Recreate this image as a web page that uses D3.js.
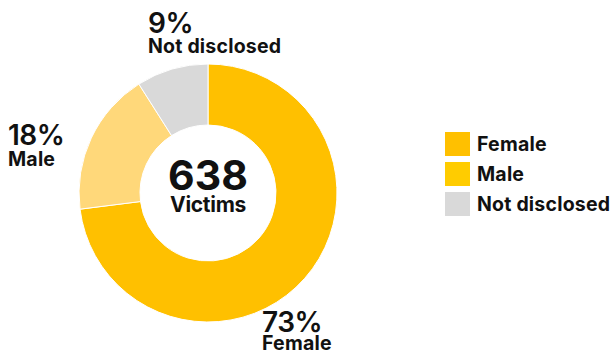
<!DOCTYPE html>
<html>
<head>
<meta charset="utf-8">
<script src="https://cdn.jsdelivr.net/npm/d3@7"></script>
<style>
  html, body { margin: 0; padding: 0; background: #fff; }
  svg { display: block; font-family: Inter, "Noto Sans", sans-serif; }
</style>
</head>
<body>
<svg id="chart" width="616" height="356"></svg>
<script>
// Victims by gender
const categories = ["Female", "Male", "Not disclosed"];
const shares = [73, 18, 9];
const totalVictims = 638;
const sliceColors = ["#FFC000", "#FFD87A", "#D9D9D9"];
const legendColors = ["#FFC000", "#FFCC00", "#D9D9D9"];

const svg = d3.select("#chart");
const cx = 208, cy = 193, outerR = 129, innerR = 68;

const data = categories.map((c, i) => ({ name: c, value: shares[i], color: sliceColors[i] }));
const pie = d3.pie().value(d => d.value).sort(null);
const arc = d3.arc().innerRadius(innerR).outerRadius(outerR);
const arcs = pie(data);

const g = svg.append("g").attr("transform", `translate(${cx},${cy})`);
g.selectAll("path.slice")
  .data(arcs)
  .join("path")
  .attr("class", "slice")
  .attr("d", arc)
  .attr("fill", d => d.data.color)
  .attr("stroke", "#fff")
  .attr("stroke-width", 1);

// centre total
g.append("text").attr("text-anchor", "middle").attr("y", -3)
  .attr("font-size", 41).attr("font-weight", 700).attr("fill", "#111")
  .text(totalVictims);
g.append("text").attr("text-anchor", "middle").attr("y", 19)
  .attr("font-size", 21).attr("font-weight", 700).attr("fill", "#111")
  .attr("letter-spacing", -0.3)
  .text("Victims");

// outside labels: percentage over category name
const labelPos = [
  { x: 262, y: 332, gap: 18 },
  { x: 8, y: 145, gap: 21 },
  { x: 148, y: 33, gap: 20 }
];
arcs.forEach((a, i) => {
  const p = labelPos[i];
  const t = svg.append("text").attr("fill", "#111");
  t.append("tspan").attr("x", p.x).attr("y", p.y)
    .attr("font-size", 28).attr("font-weight", 600).attr("letter-spacing", -0.5)
    .text(a.data.value + "%");
  t.append("tspan").attr("x", p.x).attr("y", p.y + p.gap)
    .attr("font-size", 19.5).attr("font-weight", 700).attr("letter-spacing", 0.2)
    .text(a.data.name);
});

// legend
const legend = svg.append("g").attr("transform", "translate(445,132)");
const items = legend.selectAll("g").data(categories).join("g")
  .attr("transform", (d, i) => `translate(0,${i * 30})`);
items.append("rect").attr("width", 25).attr("height", 24)
  .attr("fill", (d, i) => legendColors[i]);
items.append("text").attr("x", 32).attr("y", 19)
  .attr("font-size", 19.5).attr("font-weight", 700).attr("fill", "#111")
  .attr("letter-spacing", 0.2)
  .text(d => d);
</script>
</body>
</html>
